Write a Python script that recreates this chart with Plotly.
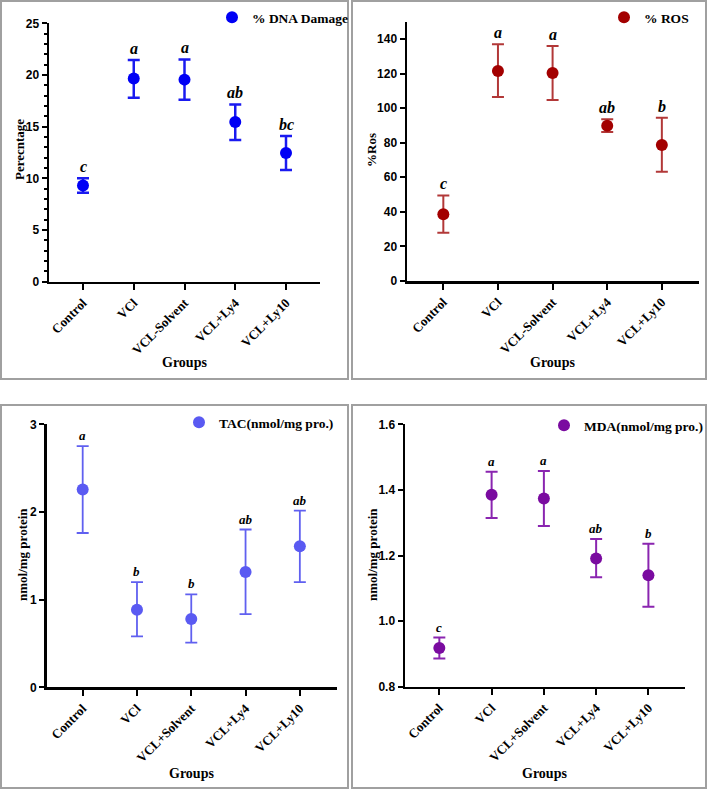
import plotly.graph_objects as go

W, H = 709, 790

# ---------------- data ----------------
groups_a = ["Control", "VCl", "VCL-Solvent", "VCL+Ly4", "VCL+Ly10"]
groups_b = ["Control", "VCl", "VCL+Solvent", "VCL+Ly4", "VCL+Ly10"]

dna_mean = [9.3, 19.65, 19.55, 15.45, 12.45]
dna_upper = [10.0, 21.45, 21.5, 17.15, 14.1]
dna_lower = [8.6, 17.8, 17.6, 13.7, 10.8]
dna_letters = ["c", "a", "a", "ab", "bc"]

ros_mean = [38.6, 121.5, 120.3, 89.8, 78.7]
ros_upper = [49.5, 136.9, 135.9, 93.6, 94.5]
ros_lower = [27.9, 106.4, 104.7, 86.2, 63.2]
ros_letters = ["c", "a", "a", "ab", "b"]

tac_mean = [2.255, 0.885, 0.78, 1.315, 1.61]
tac_upper = [2.75, 1.20, 1.06, 1.80, 2.015]
tac_lower = [1.76, 0.58, 0.51, 0.835, 1.20]
tac_letters = ["a", "b", "b", "ab", "ab"]

mda_mean = [0.918, 1.385, 1.374, 1.191, 1.140]
mda_upper = [0.950, 1.455, 1.458, 1.250, 1.236]
mda_lower = [0.886, 1.314, 1.290, 1.134, 1.044]
mda_letters = ["c", "a", "a", "ab", "b"]

SERIF = "Liberation Serif"
SANS = "Liberation Sans"

def px_x(p):
    return p / W

def px_y(p):
    return 1 - p / H

panels = [
    dict(name="% DNA Damage", cats=groups_a, mean=dna_mean, up=dna_upper, lo=dna_lower,
         letters=dna_letters, mcol="#0000F5", ecol="#1A1AF0", ethick=2.5,
         xdom=(49, 320), ydom=(23.3, 281.7), yr=[0, 25], dtick=5, minor=True,
         xr=[-0.67, 4.67], ytitle="Perecntage", ytx=19, yty=150, gx=184, gy=362,
         lx=212, ly=2, lfs=16, legend="legend"),
    dict(name="% ROS", cats=groups_a, mean=ros_mean, up=ros_upper, lo=ros_lower,
         letters=ros_letters, mcol="#A30000", ecol="#B23838", ethick=2,
         xdom=(407, 699), ydom=(21.7, 281), yr=[0, 150], dtick=20, minor=False,
         xr=[-0.665, 4.68], ytitle="%Ros", ytx=371, yty=150, gx=552, gy=362,
         lx=604, ly=2, lfs=16, legend="legend2"),
    dict(name="TAC(nmol/mg pro.)", cats=groups_b, mean=tac_mean, up=tac_upper, lo=tac_lower,
         letters=tac_letters, mcol="#5A5AF2", ecol="#6060F0", ethick=1.8,
         xdom=(46.7, 337.3), ydom=(424.3, 687.3), yr=[0, 3], dtick=1, minor=False,
         xr=[-0.663, 4.69], ytitle="nmol/mg protein", ytx=22, yty=555, gx=191, gy=773,
         lx=179, ly=407, lfs=13, legend="legend3"),
    dict(name="MDA(nmol/mg pro.)", cats=groups_b, mean=mda_mean, up=mda_upper, lo=mda_lower,
         letters=mda_letters, mcol="#7A0BA0", ecol="#8A25B0", ethick=2,
         xdom=(405, 685), ydom=(424.3, 686.7), yr=[0.8, 1.6], dtick=0.2, minor=False,
         xr=[-0.657, 4.70], ytitle="nmol/mg protein", ytx=372, yty=555, gx=544, gy=773,
         lx=544, ly=410, lfs=13, legend="legend4"),
]

fig = go.Figure()
annotations = []
layout = {}

for i, p in enumerate(panels, start=1):
    xa = "x" if i == 1 else f"x{i}"
    ya = "y" if i == 1 else f"y{i}"
    xkey = "xaxis" if i == 1 else f"xaxis{i}"
    ykey = "yaxis" if i == 1 else f"yaxis{i}"
    fig.add_trace(go.Scatter(
        x=p["cats"], y=p["mean"], mode="markers", name=p["name"],
        xaxis=xa, yaxis=ya, legend=p["legend"], showlegend=True,
        marker=dict(size=12, color=p["mcol"]),
        error_y=dict(type="data", symmetric=False,
                     array=[u - m for u, m in zip(p["up"], p["mean"])],
                     arrayminus=[m - l for m, l in zip(p["mean"], p["lo"])],
                     color=p["ecol"], thickness=p["ethick"], width=6),
    ))
    layout[xkey] = dict(
        domain=[px_x(p["xdom"][0]), px_x(p["xdom"][1])],
        anchor=ya, type="category", range=p["xr"], automargin=False,
        showline=True, linecolor="black", linewidth=2.5,
        ticks="outside", ticklen=6, tickwidth=2, tickcolor="black",
        tickangle=-45, showgrid=False, zeroline=False,
        tickfont=dict(family=SERIF, size=13, color="black", weight="bold"),
    )
    yax = dict(
        domain=[px_y(p["ydom"][1]), px_y(p["ydom"][0])],
        anchor=xa, range=p["yr"], dtick=p["dtick"], tick0=p["yr"][0], automargin=False,
        showline=True, linecolor="black", linewidth=2.5,
        ticks="outside", ticklen=5, tickwidth=2, tickcolor="black",
        showgrid=False, zeroline=False,
        tickfont=dict(family=SANS, size=12, color="black", weight="bold"),
    )
    if p["minor"]:
        yax["minor"] = dict(dtick=1, ticks="outside", ticklen=3, tickwidth=2, tickcolor="black")
    if i == 4:
        yax["tickformat"] = ".1f"
    layout[ykey] = yax

    layout[p["legend"]] = dict(
        x=px_x(p["lx"]), y=px_y(p["ly"]), xanchor="left", yanchor="top",
        bgcolor="rgba(0,0,0,0)",
        font=dict(family=SERIF, size=13.5, color="black", weight="bold"),
    )

    for c, u, t in zip(p["cats"], p["up"], p["letters"]):
        annotations.append(dict(
            x=c, y=u, xref=xa, yref=ya, text=f"<i><b>{t}</b></i>", showarrow=False,
            yanchor="bottom", yshift=1,
            font=dict(family=SERIF, size=p["lfs"], color="black"),
        ))
    annotations.append(dict(
        x=px_x(p["gx"]), y=px_y(p["gy"]), xref="paper", yref="paper",
        text="<b>Groups</b>", showarrow=False, xanchor="center", yanchor="middle",
        font=dict(family=SERIF, size=14, color="black"),
    ))
    annotations.append(dict(
        x=px_x(p["ytx"]), y=px_y(p["yty"]), xref="paper", yref="paper",
        text=f"<b>{p['ytitle']}</b>", showarrow=False, textangle=-90,
        xanchor="center", yanchor="middle",
        font=dict(family=SERIF, size=13, color="black"),
    ))

boxes = [(1, 1, 348, 379), (352, 1, 706, 379), (1, 405, 348, 788), (352, 405, 706, 788)]
shapes = [dict(type="rect", xref="paper", yref="paper",
               x0=px_x(a), x1=px_x(c), y0=px_y(d), y1=px_y(b),
               line=dict(color="#A0A0A0", width=2), fillcolor="rgba(0,0,0,0)")
          for a, b, c, d in boxes]

fig.update_layout(
    width=W, height=H, margin=dict(l=0, r=0, t=0, b=0, autoexpand=False),
    paper_bgcolor="white", plot_bgcolor="white",
    annotations=annotations, shapes=shapes, **layout,
)

fig.write_html(
    "out.html",
    config={"displayModeBar": False, "staticPlot": True},
    post_script=(
        "document.documentElement.style.margin='0';"
        "document.documentElement.style.overflow='hidden';"
        "document.body.style.margin='0';document.body.style.padding='0';"
        "document.body.style.overflow='hidden';"
        "var gd=document.getElementById('{plot_id}');"
        "gd.style.position='fixed';gd.style.top='0px';gd.style.left='0px';"
    ),
)
